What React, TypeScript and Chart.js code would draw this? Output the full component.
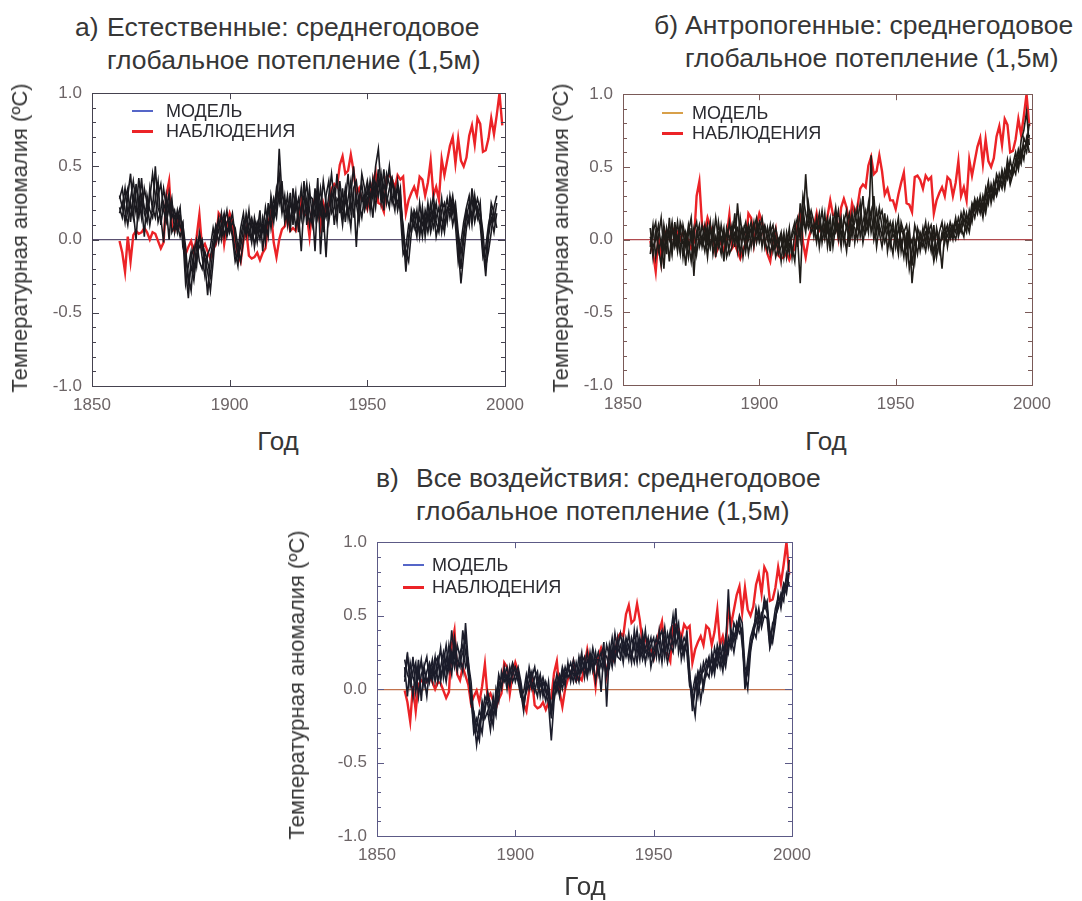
import React, { useEffect, useRef } from "react";
import { Chart, registerables } from "chart.js";

Chart.register(...registerables);

const FONT = '"Liberation Sans", Arial, Helvetica, sans-serif';

// Annual values start in this year
const FIRST_YEAR = 1860;

// Axis ticks
const xTickYears = [1850, 1900, 1950, 2000];
const yTickValues = [-1, -0.5, 0, 0.5, 1];
const MINOR_STEP = 0.1;

// Observed global mean near-surface temperature anomaly, 1860-1999 (ºC)
const observed = [
  -0.01, -0.09, -0.22, 0.02, -0.15, 0.03, 0.06, 0.04, 0.05, 0.08,
  0.05, 0.0, 0.05, 0.04, -0.01, -0.06, -0.02, 0.3, 0.4, 0.1,
  0.06, 0.15, 0.09, 0.03, -0.1, -0.05, -0.01, -0.09, 0.02, 0.17,
  -0.06, -0.03, -0.08, -0.13, -0.07, -0.03, 0.18, 0.15, -0.03, 0.1,
  0.18, 0.12, -0.02, -0.1, -0.15, -0.01, 0.07, -0.11, -0.13, -0.12,
  -0.09, -0.14, -0.09, -0.06, 0.11, 0.19, -0.02, -0.12, 0.0, 0.07,
  0.09, 0.18, 0.06, 0.08, 0.06, 0.16, 0.27, 0.17, 0.17, 0.02,
  0.22, 0.28, 0.22, 0.09, 0.25, 0.18, 0.23, 0.35, 0.38, 0.36,
  0.51, 0.57, 0.45, 0.47, 0.58, 0.47, 0.31, 0.35, 0.27, 0.27,
  0.21, 0.31, 0.39, 0.46, 0.25, 0.24, 0.19, 0.43, 0.44, 0.41,
  0.35, 0.44, 0.41, 0.43, 0.18, 0.27, 0.32, 0.36, 0.3, 0.43,
  0.41, 0.3, 0.39, 0.54, 0.3, 0.36, 0.27, 0.55, 0.44, 0.54,
  0.64, 0.7, 0.52, 0.69, 0.54, 0.5, 0.56, 0.71, 0.78, 0.65,
  0.83, 0.79, 0.6, 0.61, 0.69, 0.83, 0.72, 0.85, 1.0, 0.78,
];

// a) Natural forcing ensemble, 1860-1997
const naturalRun1 = [
  0.3, 0.22, 0.35, 0.18, 0.28, 0.4, 0.25, 0.15, 0.3, 0.22,
  0.18, 0.28, 0.45, 0.3, 0.12, 0.2, 0.35, 0.22, 0.0, 0.25,
  0.15, 0.05, 0.18, 0.02, -0.3, -0.18, -0.08, -0.22, -0.05, 0.02,
  -0.12, -0.25, -0.1, -0.05, 0.08, -0.02, 0.12, 0.05, 0.15, 0.02,
  0.1, 0.18, 0.02, -0.12, -0.05, 0.08, 0.15, 0.02, 0.12, -0.05,
  0.08, 0.0, 0.15, 0.05, 0.18, 0.25, 0.12, 0.3, 0.45, 0.22,
  0.18, 0.3, 0.12, 0.25, 0.08, 0.2, 0.35, 0.15, 0.28, 0.1,
  0.22, -0.08, 0.3, 0.18, 0.4, 0.25, 0.12, 0.28, 0.35, 0.2,
  0.3, 0.15, 0.25, 0.45, 0.2, 0.32, -0.05, 0.28, 0.38, 0.22,
  0.35, 0.2, 0.42, 0.3, 0.48, 0.25, 0.38, 0.3, 0.22, 0.4,
  0.28, 0.35, 0.18, -0.1, -0.05, 0.1, 0.05, 0.18, 0.08, 0.15,
  0.02, 0.2, 0.12, 0.25, 0.08, 0.15, 0.22, 0.05, 0.18, 0.28,
  0.15, 0.25, 0.1, -0.15, -0.02, 0.12, 0.22, 0.3, 0.15, 0.25,
  0.18, 0.1, -0.12, -0.05, 0.1, 0.2, 0.12, 0.25,
];
const naturalRun2 = [
  0.18, 0.25, 0.12, 0.3, 0.45, 0.2, 0.0, 0.28, 0.15, 0.35,
  0.25, 0.1, 0.22, 0.15, 0.3, 0.38, 0.2, 0.12, 0.25, 0.05,
  0.1, 0.2, 0.08, 0.12, -0.2, -0.4, -0.12, -0.05, -0.18, 0.05,
  -0.05, -0.15, -0.38, -0.12, 0.0, 0.1, 0.05, 0.18, 0.02, 0.12,
  0.15, 0.05, -0.08, -0.18, 0.02, 0.12, 0.05, 0.2, 0.0, 0.1,
  -0.02, 0.12, 0.05, 0.22, 0.1, 0.15, 0.28, 0.2, 0.62, 0.3,
  0.25, 0.15, 0.32, 0.1, 0.28, 0.18, -0.08, 0.25, 0.38, 0.2,
  0.1, 0.35, 0.15, 0.25, 0.05, 0.3, 0.4, 0.18, 0.22, 0.45,
  0.18, 0.35, 0.12, 0.28, 0.4, 0.15, 0.3, 0.2, 0.45, 0.35,
  0.22, 0.4, 0.28, 0.5, 0.62, 0.35, 0.2, 0.45, 0.38, 0.25,
  0.35, 0.2, 0.3, 0.05, -0.22, 0.02, 0.15, 0.08, 0.2, 0.02,
  0.18, 0.08, 0.25, 0.1, 0.22, 0.02, 0.12, 0.28, 0.1, 0.2,
  0.25, 0.1, 0.2, -0.05, -0.3, -0.1, 0.08, 0.18, 0.28, 0.12,
  0.22, 0.15, -0.05, -0.25, 0.02, 0.15, 0.05, 0.18,
];
const naturalRun3 = [
  0.28, 0.35, 0.2, 0.1, 0.25, 0.15, 0.38, 0.22, 0.42, 0.18,
  0.12, 0.35, 0.2, 0.5, 0.22, 0.15, -0.02, 0.3, 0.18, 0.28,
  0.05, 0.15, 0.22, -0.05, -0.12, -0.25, -0.35, -0.1, 0.0, -0.15,
  -0.2, -0.08, -0.15, -0.25, -0.05, 0.05, 0.15, 0.0, 0.1, 0.2,
  0.05, 0.12, 0.08, -0.05, -0.15, 0.0, 0.18, 0.08, -0.02, 0.15,
  0.05, 0.2, -0.08, 0.12, 0.02, 0.3, 0.18, 0.35, 0.25, 0.4,
  0.12, 0.22, 0.05, 0.35, 0.2, 0.28, 0.15, 0.4, 0.1, 0.3,
  0.28, 0.15, 0.42, -0.1, 0.22, 0.15, 0.3, 0.45, 0.25, 0.12,
  0.4, 0.22, 0.35, 0.15, 0.3, 0.5, 0.25, 0.12, 0.3, 0.2,
  0.28, 0.32, 0.15, 0.38, 0.3, 0.45, 0.28, 0.35, 0.5, 0.3,
  0.2, 0.4, 0.25, 0.1, -0.12, -0.02, 0.2, 0.12, 0.02, 0.25,
  0.1, 0.15, 0.05, 0.18, 0.3, 0.12, 0.05, 0.2, 0.25, 0.12,
  0.3, 0.18, 0.25, 0.05, -0.1, 0.05, 0.2, 0.1, 0.35, 0.2,
  0.28, 0.2, 0.05, -0.18, -0.08, 0.05, 0.22, 0.3,
];
const naturalRun4 = [
  0.22, 0.15, 0.28, 0.35, 0.12, 0.3, 0.18, 0.42, 0.25, 0.02,
  0.3, 0.2, 0.15, 0.28, 0.4, 0.1, 0.25, 0.18, 0.32, 0.15,
  0.2, 0.1, 0.02, 0.1, -0.05, -0.3, -0.18, -0.28, -0.1, -0.05,
  0.0, -0.12, -0.22, -0.35, -0.15, 0.08, -0.02, 0.1, 0.18, 0.05,
  0.12, 0.02, -0.15, -0.08, 0.08, 0.18, 0.02, 0.1, 0.15, 0.05,
  0.12, 0.05, 0.1, -0.02, 0.25, 0.08, 0.22, 0.15, 0.35, 0.18,
  0.3, 0.1, 0.25, 0.18, 0.32, 0.05, 0.22, 0.3, 0.18, 0.35,
  0.15, 0.28, 0.2, 0.35, 0.18, -0.12, 0.22, 0.32, 0.1, 0.28,
  0.25, 0.1, 0.3, 0.22, 0.08, 0.35, 0.4, 0.25, 0.15, 0.3,
  0.4, 0.28, 0.35, 0.22, 0.4, 0.3, 0.48, 0.25, 0.35, 0.42,
  0.3, 0.25, 0.35, 0.0, -0.08, -0.15, 0.05, 0.2, 0.15, 0.05,
  0.22, 0.02, 0.18, 0.05, 0.15, 0.25, 0.1, 0.15, 0.05, 0.22,
  0.2, 0.3, 0.15, 0.02, -0.2, 0.0, 0.15, 0.25, 0.1, 0.3,
  0.15, 0.25, -0.1, -0.12, 0.05, 0.25, 0.18, 0.08,
];

// б) Anthropogenic forcing ensemble, 1860-1999
const anthroRun1 = [
  -0.05, 0.1, -0.12, 0.02, 0.15, -0.08, 0.05, -0.15, 0.08, -0.02,
  0.12, -0.05, 0.0, -0.18, 0.05, 0.15, -0.1, 0.02, 0.1, -0.05,
  0.05, -0.12, 0.08, -0.02, 0.15, 0.0, -0.1, 0.05, -0.05, 0.12,
  0.0, 0.18, -0.08, 0.05, -0.12, 0.02, 0.1, -0.05, 0.08, 0.15,
  0.02, 0.1, -0.05, 0.08, -0.02, 0.05, -0.12, -0.05, 0.02, -0.08,
  0.0, -0.1, 0.05, 0.12, -0.05, 0.25, 0.1, 0.45, 0.15, 0.05,
  0.1, -0.02, 0.12, 0.05, 0.18, -0.05, 0.08, 0.02, 0.15, 0.0,
  0.1, 0.05, -0.08, 0.12, 0.02, 0.2, 0.08, 0.15, -0.02, 0.1,
  0.25, 0.05, 0.15, -0.05, 0.1, 0.02, 0.18, -0.08, 0.05, 0.12,
  -0.05, 0.08, 0.0, -0.12, 0.05, -0.2, -0.08, 0.1, 0.02, -0.05,
  0.08, -0.02, 0.1, 0.0, -0.15, -0.05, 0.05, 0.12, -0.02, 0.08,
  0.02, 0.1, 0.05, 0.15, 0.08, 0.02, 0.18, 0.1, 0.22, 0.15,
  0.25, 0.18, 0.3, 0.22, 0.35, 0.28, 0.4, 0.32, 0.45, 0.38,
  0.42, 0.5, 0.38, 0.45, 0.55, 0.48, 0.62, 0.55, 0.7, 0.6,
];
const anthroRun2 = [
  0.08, -0.12, 0.05, -0.05, -0.18, 0.1, -0.02, 0.05, -0.1, 0.12,
  -0.05, 0.08, -0.12, 0.05, -0.02, -0.15, 0.05, 0.12, -0.05, 0.02,
  -0.08, 0.05, -0.05, 0.1, -0.12, 0.05, 0.02, -0.15, 0.08, 0.0,
  0.1, -0.05, 0.25, 0.02, 0.08, -0.08, 0.05, 0.12, -0.02, 0.05,
  0.12, -0.05, 0.08, 0.0, 0.1, -0.08, 0.02, -0.1, -0.05, 0.05,
  -0.12, 0.02, -0.05, -0.15, 0.1, 0.05, 0.3, 0.18, 0.08, 0.15,
  0.02, 0.15, -0.05, 0.1, 0.0, 0.12, -0.08, 0.15, 0.05, 0.1,
  -0.05, 0.15, 0.08, 0.02, 0.18, -0.02, 0.12, 0.25, 0.05, 0.15,
  0.05, 0.58, 0.1, 0.2, 0.05, -0.05, 0.08, 0.15, 0.0, -0.1,
  0.1, -0.05, 0.08, 0.02, -0.15, 0.05, -0.3, -0.1, 0.05, -0.08,
  0.02, 0.12, -0.05, 0.05, -0.1, 0.08, -0.02, 0.0, 0.1, -0.05,
  0.08, 0.0, 0.12, 0.05, 0.18, 0.1, 0.05, 0.2, 0.12, 0.25,
  0.18, 0.3, 0.2, 0.35, 0.25, 0.38, 0.3, 0.42, 0.35, 0.48,
  0.4, 0.55, 0.45, 0.52, 0.6, 0.5, 0.68, 0.75, 0.88, 0.65,
];
const anthroRun3 = [
  -0.1, 0.05, 0.12, -0.08, 0.0, -0.2, 0.08, 0.0, 0.12, -0.05,
  0.02, -0.1, 0.1, 0.0, -0.12, 0.08, -0.25, 0.05, -0.02, 0.1,
  0.0, 0.1, -0.05, 0.05, -0.08, 0.12, -0.02, 0.08, -0.12, -0.05,
  0.05, 0.1, -0.02, 0.15, 0.0, 0.08, -0.1, 0.02, 0.12, -0.02,
  0.08, 0.15, 0.0, -0.08, 0.05, 0.1, -0.05, 0.0, -0.15, 0.02,
  -0.05, 0.08, -0.12, 0.05, 0.02, -0.3, 0.15, 0.05, 0.25, 0.1,
  0.05, 0.08, 0.18, -0.02, 0.1, 0.05, 0.15, -0.05, 0.1, 0.2,
  0.02, 0.12, 0.2, -0.05, 0.1, 0.08, 0.0, 0.15, 0.3, 0.05,
  0.12, 0.2, 0.0, 0.1, 0.22, 0.08, -0.02, 0.05, 0.12, 0.02,
  0.05, 0.15, -0.08, 0.05, 0.1, -0.05, 0.0, -0.15, 0.08, 0.02,
  -0.05, 0.05, 0.02, -0.08, 0.1, -0.12, 0.0, -0.2, 0.05, 0.1,
  0.0, 0.05, 0.15, 0.02, 0.1, 0.2, 0.12, 0.05, 0.18, 0.28,
  0.2, 0.25, 0.15, 0.3, 0.4, 0.25, 0.35, 0.3, 0.38, 0.45,
  0.35, 0.48, 0.4, 0.5, 0.45, 0.58, 0.52, 0.65, 0.6, 0.72,
];
const anthroRun4 = [
  0.02, -0.05, 0.0, 0.1, -0.05, 0.05, -0.1, 0.15, -0.08, 0.05,
  -0.08, 0.12, 0.05, -0.05, 0.1, -0.02, 0.08, -0.1, 0.05, 0.0,
  0.1, -0.02, 0.12, -0.1, 0.02, -0.05, 0.1, -0.02, 0.05, -0.1,
  -0.05, 0.05, 0.08, -0.1, 0.05, 0.12, 0.0, 0.08, -0.05, 0.1,
  -0.02, 0.05, 0.1, 0.02, -0.1, 0.0, 0.08, -0.02, 0.05, -0.12,
  0.05, -0.05, 0.02, 0.08, 0.15, 0.0, 0.2, 0.08, 0.12, 0.2,
  0.12, 0.0, 0.08, 0.2, 0.05, 0.15, 0.02, 0.1, 0.22, 0.05,
  0.15, -0.02, 0.1, 0.18, 0.05, 0.12, 0.22, 0.02, 0.12, 0.2,
  0.08, 0.15, 0.3, 0.05, 0.15, 0.2, 0.05, 0.1, -0.05, 0.08,
  0.02, -0.1, 0.12, 0.05, -0.05, 0.08, -0.18, 0.0, -0.1, 0.05,
  0.0, -0.08, 0.05, 0.1, 0.0, 0.05, -0.08, 0.05, 0.0, 0.02,
  0.12, 0.05, 0.0, 0.1, 0.05, 0.15, 0.08, 0.12, 0.25, 0.2,
  0.28, 0.22, 0.25, 0.18, 0.3, 0.35, 0.28, 0.45, 0.4, 0.35,
  0.48, 0.42, 0.55, 0.45, 0.52, 0.62, 0.55, 0.7, 0.65, 0.8,
];

// в) All forcings ensemble, 1860-1999
const allRun1 = [
  0.05, 0.22, 0.1, -0.05, 0.15, 0.08, 0.2, 0.02, 0.12, 0.18,
  0.1, 0.22, 0.05, 0.15, 0.25, 0.12, 0.3, 0.18, 0.35, 0.2,
  0.15, 0.4, 0.25, 0.1, -0.05, -0.3, -0.25, -0.15, -0.2, -0.05,
  -0.1, -0.2, -0.05, -0.15, 0.02, 0.08, 0.12, 0.0, 0.15, 0.05,
  0.1, 0.15, 0.05, -0.08, -0.02, 0.05, 0.12, 0.02, -0.05, 0.08,
  0.0, -0.08, 0.05, -0.15, -0.05, 0.02, 0.1, 0.05, 0.15, 0.08,
  0.12, 0.05, 0.18, 0.1, 0.2, 0.15, 0.25, 0.12, 0.22, 0.05,
  0.18, 0.25, 0.15, 0.3, 0.22, 0.35, 0.2, 0.28, 0.38, 0.25,
  0.3, 0.2, 0.35, 0.28, 0.4, 0.25, 0.32, 0.18, 0.3, 0.22,
  0.28, 0.35, 0.2, 0.3, 0.42, 0.25, 0.35, 0.5, 0.3, 0.38,
  0.28, 0.35, 0.3, 0.05, -0.1, 0.02, 0.12, 0.05, 0.18, 0.1,
  0.2, 0.12, 0.28, 0.2, 0.3, 0.18, 0.35, 0.25, 0.4, 0.32,
  0.45, 0.38, 0.42, 0.05, 0.2, 0.35, 0.42, 0.48, 0.4, 0.52,
  0.55, 0.6, 0.35, 0.42, 0.55, 0.62, 0.58, 0.7, 0.65, 0.8,
];
const allRun2 = [
  0.15, -0.05, 0.18, 0.08, 0.02, 0.2, -0.08, 0.15, 0.05, 0.1,
  0.2, 0.05, 0.15, 0.28, 0.08, 0.22, 0.12, 0.25, 0.15, 0.3,
  0.22, 0.12, 0.45, 0.18, 0.05, -0.2, -0.38, -0.22, -0.3, -0.12,
  -0.05, -0.15, -0.25, 0.0, -0.08, 0.12, 0.05, 0.1, 0.02, 0.15,
  0.05, 0.12, -0.02, -0.15, 0.05, 0.1, 0.0, 0.08, 0.12, -0.05,
  0.05, -0.02, -0.1, -0.35, -0.08, 0.05, -0.05, 0.12, 0.02, 0.18,
  0.05, 0.15, 0.08, 0.22, 0.12, 0.18, 0.08, 0.2, 0.15, 0.25,
  0.1, 0.2, 0.32, -0.12, 0.25, 0.15, 0.3, 0.22, 0.2, 0.35,
  0.25, 0.38, 0.22, 0.3, 0.18, 0.35, 0.25, 0.4, 0.22, 0.3,
  0.35, 0.22, 0.4, 0.25, 0.3, 0.18, 0.28, 0.35, 0.55, 0.25,
  0.35, 0.22, 0.4, 0.1, -0.05, -0.18, 0.05, 0.15, 0.0, 0.12,
  0.08, 0.25, 0.15, 0.3, 0.22, 0.12, 0.28, 0.68, 0.3, 0.38,
  0.35, 0.48, 0.3, 0.1, 0.0, 0.25, 0.38, 0.45, 0.55, 0.42,
  0.5, 0.48, 0.28, 0.35, 0.5, 0.55, 0.65, 0.6, 0.78, 0.7,
];
const allRun3 = [
  0.08, 0.25, 0.02, 0.12, 0.18, -0.05, 0.1, 0.15, 0.22, 0.05,
  0.15, 0.1, 0.2, 0.05, 0.18, 0.3, 0.15, 0.4, 0.22, 0.12,
  0.25, 0.3, 0.15, 0.2, -0.1, -0.15, -0.28, -0.35, -0.12, -0.2,
  -0.15, -0.28, -0.1, -0.18, 0.05, 0.0, 0.15, 0.05, 0.1, 0.18,
  0.12, 0.05, -0.05, -0.02, 0.1, 0.0, 0.08, 0.15, 0.02, 0.1,
  -0.05, 0.05, -0.02, -0.2, 0.0, 0.1, 0.02, 0.15, 0.08, 0.12,
  0.18, 0.1, 0.05, 0.15, 0.25, 0.08, 0.2, 0.15, 0.28, 0.18,
  0.25, 0.15, 0.22, 0.1, 0.3, 0.2, 0.38, 0.25, 0.3, 0.18,
  0.35, 0.28, 0.18, 0.4, 0.25, 0.3, 0.2, 0.28, 0.35, 0.15,
  0.25, 0.3, 0.32, 0.18, 0.35, 0.28, 0.4, 0.3, 0.38, 0.45,
  0.2, 0.3, 0.25, 0.02, -0.02, 0.08, -0.05, 0.1, 0.12, 0.2,
  0.15, 0.2, 0.1, 0.25, 0.15, 0.3, 0.2, 0.35, 0.28, 0.45,
  0.4, 0.5, 0.45, 0.15, 0.1, 0.3, 0.35, 0.55, 0.45, 0.48,
  0.58, 0.52, 0.3, 0.45, 0.48, 0.58, 0.62, 0.72, 0.68, 0.88,
];
const allRun4 = [
  0.2, 0.1, 0.05, 0.22, -0.02, 0.12, 0.18, 0.08, -0.05, 0.15,
  0.05, 0.18, 0.22, 0.1, 0.15, 0.05, 0.2, 0.1, 0.3, 0.15,
  0.18, 0.25, 0.35, 0.12, -0.05, -0.25, -0.2, -0.3, -0.08, -0.15,
  -0.02, -0.1, -0.18, -0.08, 0.1, 0.02, 0.08, 0.15, 0.05, 0.1,
  0.15, 0.08, 0.02, -0.12, 0.0, 0.15, 0.05, -0.02, 0.08, 0.02,
  0.08, 0.0, -0.05, -0.15, 0.05, -0.02, 0.08, 0.0, 0.1, 0.15,
  0.1, 0.2, 0.12, 0.05, 0.18, 0.22, 0.1, 0.25, 0.12, 0.2,
  0.2, -0.02, 0.25, 0.22, 0.15, 0.28, 0.18, 0.35, 0.22, 0.3,
  0.22, 0.3, 0.25, 0.18, 0.32, 0.2, 0.38, 0.25, 0.28, 0.35,
  0.2, 0.28, 0.35, 0.4, 0.22, 0.38, 0.3, 0.25, 0.42, 0.35,
  0.3, 0.25, 0.35, 0.12, -0.15, 0.0, 0.1, -0.08, 0.05, 0.15,
  0.22, 0.1, 0.2, 0.15, 0.25, 0.22, 0.15, 0.3, 0.35, 0.25,
  0.38, 0.45, 0.35, 0.0, 0.15, 0.28, 0.4, 0.35, 0.5, 0.45,
  0.62, 0.55, 0.4, 0.32, 0.45, 0.65, 0.55, 0.68, 0.75, 0.72,
];

const LEGEND_MODEL = "МОДЕЛЬ";
const LEGEND_OBS = "НАБЛЮДЕНИЯ";
const HEADING_LINE2 = "глобальное потепление (1,5м)";
const Y_TITLE = "Температурная аномалия (ºC)";
const X_TITLE = "Год";

const OBS_COLOR = "#ec2327";
const TICK_LABEL_COLOR = "#6c6466";
const TEXT_COLOR = "#363636";

// Chart canvas layout
const Y_AXIS_W = 70;
const X_AXIS_H = 36;
const PAD_TOP = 20;
const PAD_RIGHT = 40;

type Area = { left: number; top: number; right: number; bottom: number };

type PanelSpec = {
  key: string;
  letter: string;
  line1: string;
  runs: number[][];
  modelColor: string;
  legendModelColor: string;
  zeroColor: string;
  frameColor: string;
  area: Area;
  heading: { letterX: number; textX: number; top: number };
  yTitle: { x: number; y: number };
  xTitle: { x: number; y: number };
  legend: { swatchX: number; textX: number; y1: number; y2: number };
};

const panels: PanelSpec[] = [
  {
    key: "natural",
    letter: "а)",
    line1: "Естественные: среднегодовое",
    runs: [naturalRun1, naturalRun2, naturalRun3, naturalRun4],
    modelColor: "#1a191f",
    legendModelColor: "#5566c8",
    zeroColor: "#5a5070",
    frameColor: "#45424f",
    area: { left: 92, top: 93, right: 505, bottom: 386 },
    heading: { letterX: 75, textX: 107, top: 11 },
    yTitle: { x: 20, y: 238 },
    xTitle: { x: 278, y: 441 },
    legend: { swatchX: 132, textX: 166, y1: 111, y2: 131 },
  },
  {
    key: "anthropogenic",
    letter: "б)",
    line1: "Антропогенные: среднегодовое",
    runs: [anthroRun1, anthroRun2, anthroRun3, anthroRun4],
    modelColor: "#1f1c18",
    legendModelColor: "#d8a04a",
    zeroColor: "#b04a4e",
    frameColor: "#7a5a58",
    area: { left: 623, top: 94, right: 1032, bottom: 385 },
    heading: { letterX: 654, textX: 685, top: 9 },
    yTitle: { x: 561, y: 238 },
    xTitle: { x: 826, y: 441 },
    legend: { swatchX: 662, textX: 692, y1: 113, y2: 133 },
  },
  {
    key: "all",
    letter: "в)",
    line1: "Все воздействия: среднегодовое",
    runs: [allRun1, allRun2, allRun3, allRun4],
    modelColor: "#1b1c2a",
    legendModelColor: "#5566c8",
    zeroColor: "#c2724c",
    frameColor: "#5c5a86",
    area: { left: 377, top: 542, right: 792, bottom: 836 },
    heading: { letterX: 376, textX: 416, top: 462 },
    yTitle: { x: 297, y: 685 },
    xTitle: { x: 585, y: 886 },
    legend: { swatchX: 403, textX: 432, y1: 565, y2: 587 },
  },
];

// Plot frame with inward tick marks on all four sides
const frameTicks = {
  id: "frameTicks",
  afterDraw(chart: any, _args: any, opts: any) {
    const { ctx, chartArea, scales } = chart;
    const { left, right, top, bottom } = chartArea;
    const y = scales.y;
    const x = scales.x;
    ctx.save();
    ctx.strokeStyle = opts.color;
    ctx.lineWidth = 1;
    ctx.strokeRect(Math.round(left) + 0.5, Math.round(top) + 0.5, Math.round(right - left), Math.round(bottom - top));
    ctx.beginPath();
    const steps = Math.round((y.max - y.min) / MINOR_STEP);
    for (let i = 0; i <= steps; i++) {
      const v = y.min + i * MINOR_STEP;
      const py = Math.round(y.getPixelForValue(v)) + 0.5;
      const len = i % 5 === 0 ? 7 : 4;
      ctx.moveTo(left, py);
      ctx.lineTo(left + len, py);
      ctx.moveTo(right, py);
      ctx.lineTo(right - len, py);
    }
    for (const yr of xTickYears) {
      const px = Math.round(x.getPixelForValue(yr)) + 0.5;
      ctx.moveTo(px, top);
      ctx.lineTo(px, top + 6);
      ctx.moveTo(px, bottom);
      ctx.lineTo(px, bottom - 6);
    }
    ctx.stroke();
    ctx.restore();
  },
};

const toPoints = (vals: number[]) => vals.map((v, i) => ({ x: FIRST_YEAR + i, y: v }));

function PanelChart({ spec }: { spec: PanelSpec }) {
  const ref = useRef<HTMLCanvasElement>(null);
  const { area } = spec;
  const width = area.right - area.left + Y_AXIS_W + PAD_RIGHT;
  const height = area.bottom - area.top + PAD_TOP + X_AXIS_H;

  useEffect(() => {
    const canvas = ref.current;
    if (!canvas) return;
    const tickFont = { family: FONT, size: 17 };
    const chart = new Chart(canvas, {
      type: "line",
      data: {
        datasets: [
          ...spec.runs.map((run, k) => ({
            label: `${LEGEND_MODEL} ${k + 1}`,
            data: toPoints(run),
            borderColor: spec.modelColor,
            borderWidth: 1.6,
            pointRadius: 0,
            tension: 0,
            order: 0,
          })),
          {
            label: LEGEND_OBS,
            data: toPoints(observed),
            borderColor: OBS_COLOR,
            borderWidth: 2.4,
            pointRadius: 0,
            tension: 0,
            order: 1,
          },
        ],
      },
      options: {
        responsive: false,
        animation: false,
        events: [],
        layout: { padding: { top: PAD_TOP, right: PAD_RIGHT, bottom: 0, left: 0 } },
        plugins: {
          legend: { display: false },
          tooltip: { enabled: false },
          frameTicks: { color: spec.frameColor },
        } as any,
        scales: {
          x: {
            type: "linear",
            min: xTickYears[0],
            max: xTickYears[xTickYears.length - 1],
            afterBuildTicks: (s: any) => {
              s.ticks = xTickYears.map((value) => ({ value }));
            },
            afterFit: (s: any) => {
              s.height = X_AXIS_H;
            },
            grid: { display: false, drawTicks: false },
            border: { display: false },
            ticks: {
              padding: 9,
              color: TICK_LABEL_COLOR,
              font: tickFont,
              maxRotation: 0,
              autoSkip: false,
              callback: (v: any) => String(v),
            },
          },
          y: {
            type: "linear",
            min: yTickValues[0],
            max: yTickValues[yTickValues.length - 1],
            afterBuildTicks: (s: any) => {
              s.ticks = yTickValues.map((value) => ({ value }));
            },
            afterFit: (s: any) => {
              s.width = Y_AXIS_W;
            },
            grid: {
              drawTicks: false,
              lineWidth: 1.2,
              color: (c: any) => (c.tick && c.tick.value === 0 ? spec.zeroColor : "rgba(0,0,0,0)"),
            },
            border: { display: false },
            ticks: {
              padding: 10,
              color: TICK_LABEL_COLOR,
              font: tickFont,
              autoSkip: false,
              callback: (v: any) => Number(v).toFixed(1),
            },
          },
        },
      },
      plugins: [frameTicks],
    } as any);
    return () => chart.destroy();
  }, [spec]);

  return (
    <canvas
      ref={ref}
      width={width}
      height={height}
      style={{
        position: "absolute",
        left: area.left - Y_AXIS_W,
        top: area.top - PAD_TOP,
        width,
        height,
        display: "block",
      }}
    />
  );
}

function LegendRow({ x, textX, y, color, thick, label }: { x: number; textX: number; y: number; color: string; thick: number; label: string }) {
  return (
    <>
      <div style={{ position: "absolute", left: x, top: y - thick / 2, width: 21, height: thick, background: color }} />
      <div
        style={{
          position: "absolute",
          left: textX,
          top: y - 11,
          height: 22,
          lineHeight: "22px",
          fontSize: 18,
          color: "#2a2a30",
          whiteSpace: "nowrap",
        }}
      >
        {label}
      </div>
    </>
  );
}

function Panel({ spec }: { spec: PanelSpec }) {
  const centered = (x: number, y: number, extra: React.CSSProperties = {}): React.CSSProperties => ({
    position: "absolute",
    left: x,
    top: y,
    whiteSpace: "nowrap",
    transform: "translate(-50%, -50%)",
    ...extra,
  });
  const headingStyle: React.CSSProperties = {
    position: "absolute",
    top: spec.heading.top,
    fontSize: 26.5,
    lineHeight: "33px",
    color: TEXT_COLOR,
    whiteSpace: "nowrap",
  };
  return (
    <>
      <div style={{ ...headingStyle, left: spec.heading.letterX }}>{spec.letter}</div>
      <div style={{ ...headingStyle, left: spec.heading.textX }}>
        <div>{spec.line1}</div>
        <div>{HEADING_LINE2}</div>
      </div>
      <PanelChart spec={spec} />
      <div style={centered(spec.yTitle.x, spec.yTitle.y, { fontSize: 22, color: TEXT_COLOR, transform: "translate(-50%, -50%) rotate(-90deg)" })}>
        {Y_TITLE}
      </div>
      <div style={centered(spec.xTitle.x, spec.xTitle.y, { fontSize: 26, color: TEXT_COLOR })}>{X_TITLE}</div>
      <LegendRow x={spec.legend.swatchX} textX={spec.legend.textX} y={spec.legend.y1} color={spec.legendModelColor} thick={2} label={LEGEND_MODEL} />
      <LegendRow x={spec.legend.swatchX} textX={spec.legend.textX} y={spec.legend.y2} color={OBS_COLOR} thick={3} label={LEGEND_OBS} />
    </>
  );
}

export default function App() {
  return (
    <div
      style={{
        position: "absolute",
        left: 0,
        top: 0,
        width: 1082,
        height: 901,
        background: "#ffffff",
        fontFamily: FONT,
        overflow: "hidden",
      }}
    >
      {panels.map((p) => (
        <Panel key={p.key} spec={p} />
      ))}
    </div>
  );
}
